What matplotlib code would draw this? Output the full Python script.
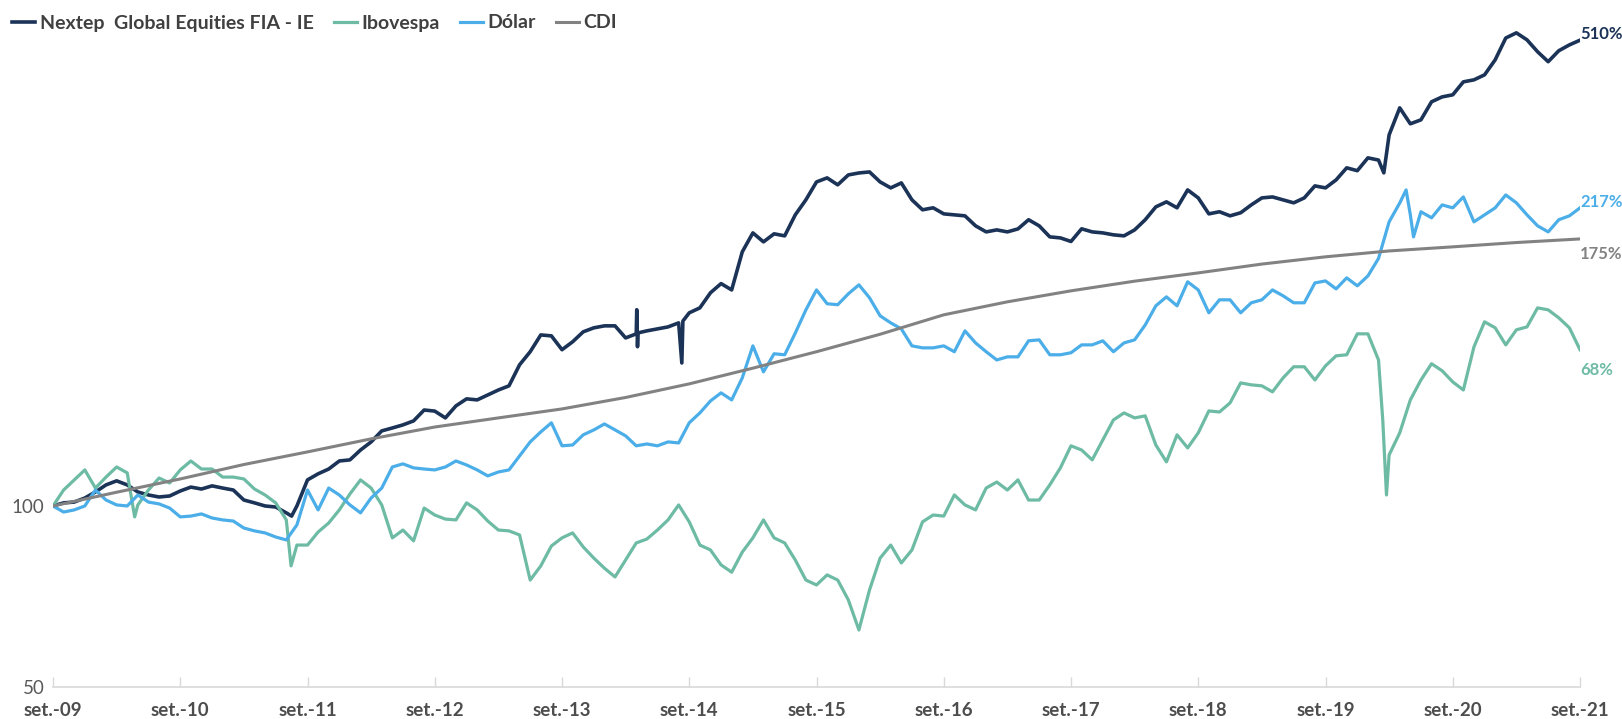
import numpy as np
import matplotlib
matplotlib.use('Agg')
import matplotlib.pyplot as plt
from matplotlib.ticker import NullLocator

plt.rcParams['font.family'] = ['Lato', 'DejaVu Sans']

# monthly grid, month 0 = set.-09
months = list(range(145))

nextep = [100.0, 101.2, 101.5, 103.1, 105.5, 108.4, 110.1, 108.4, 105.5, 104.3,
          103.5, 103.9, 105.9, 107.5, 106.7, 108.0, 107.1, 106.3, 102.3, 101.2,
          100.0, 99.6, 97.4, 100.0, 110.5, 113.1, 115.2, 118.8, 119.3, 123.9,
          127.8, 133.3, 134.8, 136.4, 138.5, 144.4, 143.8, 140.1, 146.7, 150.7,
          150.1, 153.0, 155.9, 158.4, 171.7, 180.5, 192.5, 191.8, 181.9, 187.5,
          194.8, 197.8, 199.3, 199.3, 190.3, 193.3, 195.5, 197.0, 198.5, 201.6,
          209.5, 213.5, 226.2, 234.3, 228.7, 264.6, 284.5, 274.9, 283.5, 281.3,
          304.9, 322.9, 345.8, 351.2, 342.0, 355.2, 357.9, 359.3, 345.8, 338.0,
          344.5, 322.9, 310.8, 313.2, 306.0, 304.9, 303.7, 292.3, 285.6, 287.8,
          285.6, 288.9, 299.2, 292.3, 280.2, 279.1, 275.3, 289.0, 285.6, 284.5,
          282.4, 281.3, 287.8, 299.2, 314.3, 320.4, 313.2, 335.4, 325.3, 306.0,
          308.5, 303.7, 307.3, 316.7, 325.3, 326.5, 322.9, 319.2, 325.3, 340.6,
          338.0, 348.5, 365.0, 361.0, 379.2, 376.0, 414.1, 459.2, 432.0, 438.6,
          470.0, 478.9, 482.7, 507.3, 511.2, 521.1, 551.9, 600.0, 612.0, 595.8,
          569.3, 548.0, 571.5, 584.4, 595.0]
# single-day spikes between the monthly points
nextep_extra_t = [22.5, 55.05, 55.12, 55.17, 59.3, 59.4, 125.5]
nextep_extra_v = [96.2, 212.0, 184.0, 194.0, 172.9, 203.0, 358.0]

ibovespa = [100.0, 106.3, 110.5, 114.8, 107.1, 111.7, 116.1, 113.5, 100.4, 106.3,
            111.3, 109.2, 114.8, 118.8, 115.2, 115.2, 111.7, 111.7, 110.9, 106.7,
            104.3, 101.2, 94.8, 86.1, 86.1, 90.5, 93.7, 98.5, 104.7, 110.5,
            107.1, 100.4, 88.5, 91.2, 87.5, 99.2, 96.6, 95.1, 94.8, 101.2,
            98.5, 94.4, 91.2, 90.9, 89.5, 75.3, 79.5, 85.8, 88.5, 90.2,
            85.5, 81.9, 78.8, 76.2, 81.3, 86.8, 88.1, 91.2, 94.8, 100.4,
            94.1, 86.1, 84.5, 79.8, 77.6, 83.8, 88.5, 94.8, 88.5, 86.8,
            81.3, 75.3, 73.9, 76.8, 75.3, 69.8, 62.2, 72.5, 81.9, 86.1,
            80.4, 84.5, 94.1, 96.6, 96.2, 104.3, 100.4, 98.5, 107.1, 109.6,
            106.3, 110.5, 102.3, 102.3, 108.4, 115.7, 125.9, 123.9, 119.3, 128.8,
            139.0, 142.8, 140.1, 141.2, 126.3, 118.4, 131.3, 124.9, 132.3, 143.9,
            143.3, 148.4, 160.2, 159.0, 158.4, 154.8, 163.3, 170.4, 170.4, 162.0,
            171.0, 177.7, 178.4, 193.3, 193.3, 174.9, 121.6, 132.3, 150.1, 162.0,
            172.4, 167.8, 160.8, 155.9, 183.9, 202.4, 197.8, 185.3, 196.3, 198.5,
            213.5, 211.9, 205.5, 197.8, 181.9]
ibovespa_extra_t = [7.7, 22.45, 125.4, 125.75]
ibovespa_extra_v = [95.9, 79.5, 139.0, 104.3]

dolar = [100.0, 97.7, 98.5, 100.0, 106.3, 102.3, 100.4, 100.0, 104.3, 101.5,
         100.8, 99.2, 95.9, 96.2, 97.0, 95.5, 94.8, 94.4, 91.9, 90.9,
         90.2, 88.8, 87.8, 93.0, 106.3, 98.5, 107.1, 104.3, 100.4, 97.4,
         103.1, 107.1, 116.1, 117.5, 115.7, 115.2, 114.8, 116.1, 118.8, 117.0,
         114.8, 112.2, 113.9, 114.8, 121.1, 127.8, 132.8, 137.5, 125.9, 126.3,
         131.3, 133.8, 136.9, 133.8, 130.8, 125.9, 126.8, 125.9, 127.8, 127.3,
         137.5, 142.8, 149.5, 154.2, 150.1, 163.3, 184.6, 167.1, 179.1, 178.4,
         193.9, 211.9, 228.7, 216.9, 216.1, 225.3, 233.2, 221.9, 207.1, 201.6,
         197.0, 184.6, 183.2, 183.2, 184.6, 180.5, 195.5, 186.7, 180.5, 174.9,
         177.0, 177.0, 188.2, 188.9, 178.4, 178.4, 179.8, 185.3, 185.3, 188.2,
         180.5, 186.7, 188.9, 200.0, 215.2, 222.7, 215.2, 235.9, 228.7, 209.5,
         220.2, 220.2, 209.5, 217.7, 220.2, 228.7, 223.6, 217.7, 217.7, 234.9,
         236.7, 229.6, 239.5, 232.3, 241.3, 258.0, 296.8, 319.0, 304.9, 308.5,
         301.4, 316.7, 313.1, 326.5, 296.8, 304.9, 313.1, 329.0, 319.2, 304.9,
         292.3, 285.6, 299.2, 303.7, 313.1]
dolar_extra_t = [127.6, 128.3]
dolar_extra_v = [335.4, 280.2]

cdi_months = list(range(0, 145, 6))
cdi = [100.0, 105.4, 110.9, 117.2, 123.0, 129.3, 135.3, 140.1, 145.0, 151.5,
       159.6, 169.5, 180.5, 193.0, 207.9, 218.5, 227.9, 236.5, 244.1, 252.5,
       259.6, 265.5, 269.7, 274.2, 278.0]

names = ['Nextep  Global Equities FIA - IE', 'Ibovespa', 'Dólar', 'CDI']
colors = ['#1C3358', '#6DBBA4', '#4BAEE8', '#828282']
end_labels = ['510%', '68%', '217%', '175%']
end_label_y = [610, 168, 320, 262]

tick_labels = ['set.-%02d' % (y % 100) for y in range(2009, 2022)]


def merge(t, v, et, ev):
    t = np.concatenate([np.asarray(t, float), np.asarray(et, float)])
    v = np.concatenate([np.asarray(v, float), np.asarray(ev, float)])
    o = np.argsort(t, kind='stable')
    return t[o], v[o]


series = [
    merge(months, nextep, nextep_extra_t, nextep_extra_v),
    merge(months, ibovespa, ibovespa_extra_t, ibovespa_extra_v),
    merge(months, dolar, dolar_extra_t, dolar_extra_v),
    (np.array(cdi_months, float), np.array(cdi)),
]
widths = [2.6, 2.3, 2.3, 2.2]

fig = plt.figure(figsize=(16.22, 7.19), dpi=100)
ax = fig.add_axes([53 / 1622, 32 / 719, (1580 - 53) / 1622, 687 / 719])

handles = []
for (t, v), c, lw, n in zip(series, colors, widths, names):
    h, = ax.plot(t, v, color=c, lw=lw, label=n, solid_joinstyle='round')
    handles.append(h)

ax.set_yscale('log')
ax.set_xlim(0, 144)
ax.set_ylim(50, 694)
ax.set_yticks([50, 100])
ax.set_yticklabels(['50', '100'])
ax.yaxis.set_minor_locator(NullLocator())
ax.set_xticks(range(0, 145, 12))
ax.set_xticklabels(tick_labels, fontweight='bold')

for s in ['top', 'right', 'left']:
    ax.spines[s].set_visible(False)
ax.spines['bottom'].set_color('#D9D9D9')
ax.spines['bottom'].set_linewidth(1.2)
ax.tick_params(axis='x', direction='in', length=7, width=1, color='#D9D9D9',
               pad=11, labelsize=13.5, labelcolor='#4D4D4D')
ax.tick_params(axis='y', length=0, pad=6, labelsize=13.5, labelcolor='#595959')

for txt, yv, c in zip(end_labels, end_label_y, colors):
    ax.annotate(txt, xy=(144, yv), xytext=(0, 0), textcoords='offset points',
                ha='left', va='center', fontsize=12, fontweight='bold',
                color=c, annotation_clip=False)

fig.legend(handles, names, loc='center left', bbox_to_anchor=(12 / 1622, 1 - 23 / 719),
           ncol=4, frameon=False, handlelength=1.2, handletextpad=0.25,
           columnspacing=1.0, borderpad=0, borderaxespad=0,
           prop=dict(weight='bold', size=14), labelcolor='#404040')

fig.savefig('out.png', dpi=100)
